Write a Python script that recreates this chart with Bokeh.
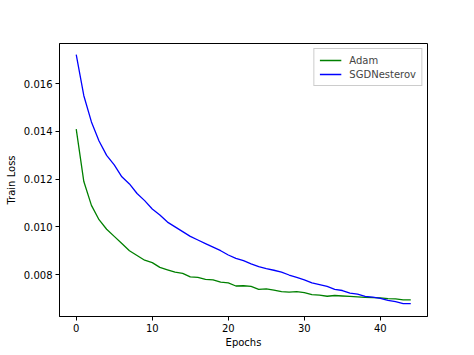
from bokeh.plotting import figure
from bokeh.models import FixedTicker, NumeralTickFormatter, Range1d, Legend, LegendItem
from bokeh.embed import file_html
from bokeh.resources import INLINE

epochs = list(range(45))
adam = [0.0141, 0.0119, 0.0109, 0.0103, 0.0099, 0.0096, 0.0093, 0.0090, 0.0088, 0.0086,
        0.0085, 0.0083, 0.0082, 0.0081, 0.00805, 0.0079, 0.00788, 0.0078, 0.00778, 0.00768,
        0.00765, 0.00752, 0.00753, 0.00750, 0.00738, 0.0074, 0.00735, 0.00728, 0.00726, 0.00728,
        0.00724, 0.00716, 0.00714, 0.00709, 0.00712, 0.0071, 0.00708, 0.00706, 0.00704, 0.00703,
        0.00702, 0.00699, 0.00698, 0.00694, 0.00694]
sgd = [0.01722, 0.0155, 0.0144, 0.0136, 0.0130, 0.0126, 0.0121, 0.0118, 0.0114, 0.0111,
       0.01075, 0.0105, 0.0102, 0.0100, 0.0098, 0.0096, 0.00945, 0.0093, 0.00915, 0.0090,
       0.00882, 0.00868, 0.00858, 0.00845, 0.00833, 0.00825, 0.00818, 0.00810, 0.00798, 0.00788,
       0.00778, 0.00765, 0.00758, 0.0075, 0.00738, 0.00733, 0.00722, 0.00718, 0.00708, 0.00705,
       0.00700, 0.00692, 0.00686, 0.00678, 0.00678]
x_ticks = [0, 10, 20, 30, 40]
y_ticks = [0.008, 0.010, 0.012, 0.014, 0.016]

FONT = "DejaVu Sans"

p = figure(width=474, height=355, output_backend="svg", toolbar_location=None,
           x_range=Range1d(-2.2, 46.2), y_range=Range1d(0.00624, 0.01769),
           min_border_left=59, min_border_right=47, min_border_top=43, min_border_bottom=39)
p.xgrid.visible = False
p.ygrid.visible = False
p.outline_line_color = "black"
p.outline_line_width = 1

r1 = p.line(epochs, adam, line_color="green", line_width=1.3)
r2 = p.line(epochs, sgd, line_color="blue", line_width=1.3)

for ax in (p.xaxis[0], p.yaxis[0]):
    ax.major_label_text_font = FONT
    ax.major_label_text_font_size = "10px"
    ax.major_label_text_color = "black"
    ax.axis_label_text_font = FONT
    ax.axis_label_text_font_size = "10px"
    ax.axis_label_text_font_style = "normal"
    ax.axis_label_text_color = "black"
    ax.minor_tick_line_color = None
    ax.major_tick_out = 4
    ax.major_tick_in = 0
    ax.major_tick_line_color = "black"
    ax.axis_line_color = "black"

p.xaxis.ticker = FixedTicker(ticks=x_ticks)
p.yaxis.ticker = FixedTicker(ticks=y_ticks)
p.yaxis.formatter = NumeralTickFormatter(format="0.000")
p.xaxis.axis_label = "Epochs"
p.yaxis.axis_label = "Train Loss"
p.xaxis.axis_label_standoff = 2
p.yaxis.axis_label_standoff = 4
p.xaxis.major_label_standoff = 3
p.yaxis.major_label_standoff = 3

legend = Legend(items=[LegendItem(label="Adam", renderers=[r1]),
                       LegendItem(label="SGDNesterov", renderers=[r2])],
                location="top_right", label_text_font=FONT, label_text_font_size="10px",
                glyph_width=22, glyph_height=12, label_height=12, spacing=2, padding=5,
                margin=5, border_line_color="#cccccc", border_line_alpha=1.0,
                background_fill_alpha=0.8, label_standoff=8)
p.add_layout(legend)

open("out.html", "w").write(file_html(p, INLINE))
